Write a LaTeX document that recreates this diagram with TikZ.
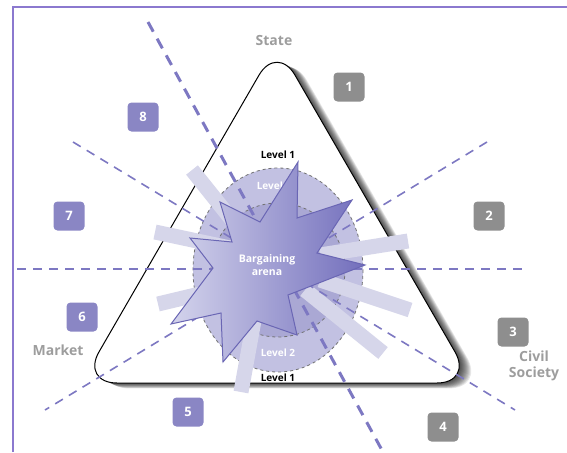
\documentclass[tikz,border=0pt]{standalone}
\usepackage{fontspec}
\setmainfont{Open Sans}
\definecolor{frm}{HTML}{8B79CF}
\definecolor{dsh}{HTML}{7D78C2}
\definecolor{gbox}{HTML}{8E8E8E}
\definecolor{pbox}{HTML}{8A86C4}
\definecolor{lgrey}{HTML}{9D9D9D}
\definecolor{lvtwo}{HTML}{C2C1E2}
\definecolor{lvthree}{HTML}{AAA8D4}
\definecolor{rayc}{HTML}{D6D6EA}
\definecolor{starl}{HTML}{D4D4EC}
\definecolor{starr}{HTML}{726EBC}
\definecolor{stard}{HTML}{6A66B4}

\tikzset{
  numbox/.style={rounded corners=4pt,minimum width=31pt,minimum height=29pt,
    inner sep=0pt,text=white,font=\bfseries\fontsize{13}{13}\selectfont},
  greybox/.style={numbox,fill=gbox},
  purplebox/.style={numbox,fill=pbox},
  sector/.style={text=lgrey,font=\bfseries\fontsize{14}{16}\selectfont,align=center},
  lvl/.style={font=\bfseries\fontsize{10}{10}\selectfont,inner sep=0pt},
  thinline/.style={dsh,line width=1.6pt,dash pattern=on 9pt off 7pt},
  thickline/.style={dsh,line width=3pt,dash pattern=on 11pt off 8pt},
  ray/.style={rayc,line width=15pt}
}

\begin{document}
\begin{tikzpicture}[x=1pt,y=-1pt]
\useasboundingbox (0,0) rectangle (567,452);
\draw[frm,line width=1.5pt] (13,452) -- (13,7) -- (567,7);

% triangle with its shadow
\foreach \s in {1,...,12}
  \fill[black,opacity=0.09,rounded corners=36pt,shift={(1.0*\s,0.45*\s)}]
    (277,44) -- (473,383) -- (81,383) -- cycle;
\filldraw[fill=white,draw=black,line width=1pt,rounded corners=36pt]
  (277,44) -- (473,383) -- (81,383) -- cycle;

\coordinate (c) at (278,270);

% levels
\draw[fill=lvtwo,draw=gbox!80!black,dashed,line width=0.8pt] (c) ellipse [x radius=85,y radius=102];
\draw[fill=lvthree,draw=gbox!80!black,dashed,line width=0.8pt] (c) circle [radius=67];

% rays
\draw[ray] (192,170) -- (240,230);
\draw[ray] (155,232) -- (230,248);
\draw[ray] (158,304) -- (225,288);
\draw[ray] (241,392) -- (255,315);
\draw[ray] (408,241) -- (320,255);
\draw[ray] (410,310) -- (320,280);
\draw[ray] (383,353) -- (305,290);

% dividing lines
\draw[thinline] (17,269) -- (528,269);
\draw[thinline] (73,142) -- (515,410);
\draw[thinline] (487,142) -- (45,410);
\draw[thickline] (148,22) -- (383,452);

\node[lvl,white] (l2top) at (274,186) {Level 2};
\node[lvl,white] (l2bot) at (278,353) {Level 2};

% bargaining arena
\draw[stard,line width=1pt,left color=starl,right color=starr,line join=miter]
  (298,162) -- (297,218) -- (352,200) -- (317,253) -- (365,265) -- (288,295)
  -- (297,335) -- (257,321) -- (223,362) -- (221,313) -- (171,324) -- (213,268)
  -- (190,238) -- (232,242) -- (220,202) -- (260,222) -- cycle;
\node[text=white,font=\bfseries\fontsize{10.5}{13}\selectfont,align=center] (arena) at (267,265) {Bargaining\\arena};

\node[lvl] (l1top) at (278,155) {Level 1};
\node[lvl] (l1bot) at (278,378) {Level 1};

% sectors
\node[sector] (state) at (274,40) {State};
\node[sector] (market) at (58,350) {Market};
\node[sector] (civil) at (534,366) {Civil\\Society};

\node[greybox] (n1) at (349,87) {1};
\node[greybox] (n2) at (489,216) {2};
\node[greybox] (n3) at (513,332) {3};
\node[greybox] (n4) at (443,427) {4};
\node[purplebox] (n5) at (188,412) {5};
\node[purplebox] (n6) at (82,317) {6};
\node[purplebox] (n7) at (69,216) {7};
\node[purplebox] (n8) at (143,117) {8};
\end{tikzpicture}
\end{document}
